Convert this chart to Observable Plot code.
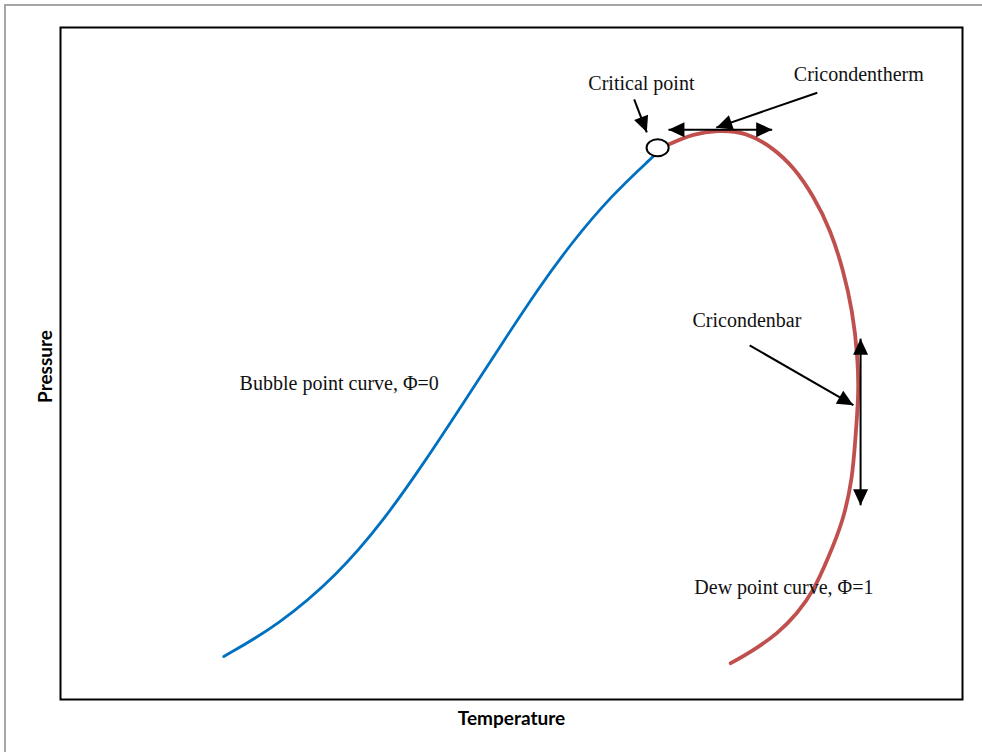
<!DOCTYPE html>
<html>
<head>
<meta charset="utf-8">
<script src="https://cdn.jsdelivr.net/npm/d3@7"></script>
<script src="https://cdn.jsdelivr.net/npm/@observablehq/plot@0.6"></script>
<style>
  html, body { margin: 0; padding: 0; background: #fff; }
  #wrap { position: relative; width: 982px; height: 752px; overflow: hidden; }
  #border { position: absolute; left: 4px; top: 4px; width: 1000px; height: 1000px;
            border-left: 2px solid #a6a6a6; border-top: 2px solid #a6a6a6; }
  #chart { position: absolute; left: 0; top: 0; }
</style>
</head>
<body>
<div id="wrap"><div id="border"></div><div id="chart"></div></div>
<script>
// Bubble point curve (temperature, pressure) in relative units 0–100
const bubbleT = [18.1, 24.1, 30.7, 35.8, 40.2, 44.7, 49.4, 52.9, 56.5, 61.0, 65.7];
const bubbleP = [6.4, 11.0, 18.5, 26.6, 35.0, 44.2, 53.9, 61.0, 67.7, 74.9, 80.8];

// Dew point curve
const dewT = [67.4, 70.2, 72.8, 75.9, 79.0, 81.3, 83.5, 85.4, 86.8, 87.8, 88.4, 88.5, 88.1, 87.8, 86.8, 85.0, 83.5, 81.7, 79.5, 76.8, 74.3];
const dewP = [82.6, 84.2, 84.7, 84.5, 82.1, 79.2, 74.9, 69.8, 63.8, 57.9, 50.9, 45.2, 38.5, 33.0, 26.6, 20.7, 16.2, 12.8, 9.8, 7.3, 5.4];

// Critical point
const criticalT = [66.2];
const criticalP = [82.1];

// Annotation labels
const labelText = ["Critical point", "Cricondentherm", "Cricondenbar", "Bubble point curve, \u03A6=0", "Dew point curve, \u03A6=1"];
const labelT = [64.4, 88.5, 76.1, 30.9, 80.2];
const labelP = [91.7, 93.0, 56.4, 47.0, 16.7];

// Single-headed pointer arrows (tail -> tip)
const pointerT1 = [63.6, 83.9, 76.4];
const pointerP1 = [89.3, 90.3, 52.7];
const pointerT2 = [65.0, 72.7, 87.9];
const pointerP2 = [84.4, 85.1, 43.8];

// Double-headed arrows (cricondentherm span, cricondenbar span)
const spanT1 = [67.4, 88.7];
const spanP1 = [84.8, 53.7];
const spanT2 = [78.9, 88.7];
const spanP2 = [84.8, 28.9];

const bubble = bubbleT.map((t, i) => ({T: t, P: bubbleP[i]}));
const dew = dewT.map((t, i) => ({T: t, P: dewP[i]}));
const critical = criticalT.map((t, i) => ({T: t, P: criticalP[i]}));
const labels = labelText.map((s, i) => ({text: s, T: labelT[i], P: labelP[i]}));
const pointers = pointerT1.map((t, i) => ({T1: t, P1: pointerP1[i], T2: pointerT2[i], P2: pointerP2[i]}));
const spans = spanT1.map((t, i) => ({T1: t, P1: spanP1[i], T2: spanT2[i], P2: spanP2[i]}));

// Filled triangular arrowhead marker
function head(color) {
  const m = d3.create("svg:marker")
    .attr("viewBox", "-16 -7.5 16 15")
    .attr("markerWidth", 16)
    .attr("markerHeight", 15)
    .attr("markerUnits", "userSpaceOnUse")
    .attr("refX", 0)
    .attr("refY", 0)
    .attr("orient", "auto-start-reverse")
    .attr("overflow", "visible");
  m.append("path").attr("d", "M0,0L-16,-7.5L-16,7.5Z").attr("fill", "black").attr("stroke", "none");
  return m.node();
}

// Ellipse symbol for the critical point
const ellipseSymbol = {
  draw(context, size) {
    const r = Math.sqrt(size / Math.PI);
    const rx = r * 1.15, ry = r * 0.88, k = 0.5523;
    context.moveTo(rx, 0);
    context.bezierCurveTo(rx, ry * k, rx * k, ry, 0, ry);
    context.bezierCurveTo(-rx * k, ry, -rx, ry * k, -rx, 0);
    context.bezierCurveTo(-rx, -ry * k, -rx * k, -ry, 0, -ry);
    context.bezierCurveTo(rx * k, -ry, rx, -ry * k, rx, 0);
    context.closePath();
  }
};

const serif = "'Liberation Serif', 'Times New Roman', serif";
const sans = "Lato, 'Open Sans', sans-serif";

const chart = Plot.plot({
  width: 982,
  height: 752,
  marginLeft: 60,
  marginRight: 20,
  marginTop: 27,
  marginBottom: 53,
  style: {background: "transparent", overflow: "visible"},
  x: {domain: [0, 100], axis: null},
  y: {domain: [0, 100], axis: null},
  marks: [
    Plot.frame({stroke: "black", strokeWidth: 2}),
    Plot.line(bubble, {x: "T", y: "P", stroke: "#0070c0", strokeWidth: 2.8, curve: "basis"}),
    Plot.line(dew, {x: "T", y: "P", stroke: "#c0504d", strokeWidth: 3.8, curve: "basis", strokeLinecap: "round"}),
    Plot.link(pointers, {x1: "T1", y1: "P1", x2: "T2", y2: "P2", stroke: "black", strokeWidth: 2, markerEnd: head}),
    Plot.link(spans, {x1: "T1", y1: "P1", x2: "T2", y2: "P2", stroke: "black", strokeWidth: 2, markerStart: head, markerEnd: head}),
    Plot.dot(critical, {x: "T", y: "P", r: 9.6, symbol: ellipseSymbol, fill: "white", stroke: "black", strokeWidth: 2}),
    Plot.text(labels, {x: "T", y: "P", text: "text", fontFamily: serif, fontSize: 20, fill: "#111", lineAnchor: "middle", textAnchor: "middle"}),
    Plot.text(["Temperature"], {frameAnchor: "bottom", dy: 19, lineAnchor: "middle", textAnchor: "middle", fontFamily: sans, fontWeight: "bold", fontSize: 19, fill: "black"}),
    Plot.text(["Pressure"], {frameAnchor: "left", dx: -15, dy: 3, rotate: -90, lineAnchor: "middle", textAnchor: "middle", fontFamily: sans, fontWeight: "bold", fontSize: 19, fill: "black"})
  ]
});
document.getElementById("chart").appendChild(chart);
</script>
</body>
</html>
